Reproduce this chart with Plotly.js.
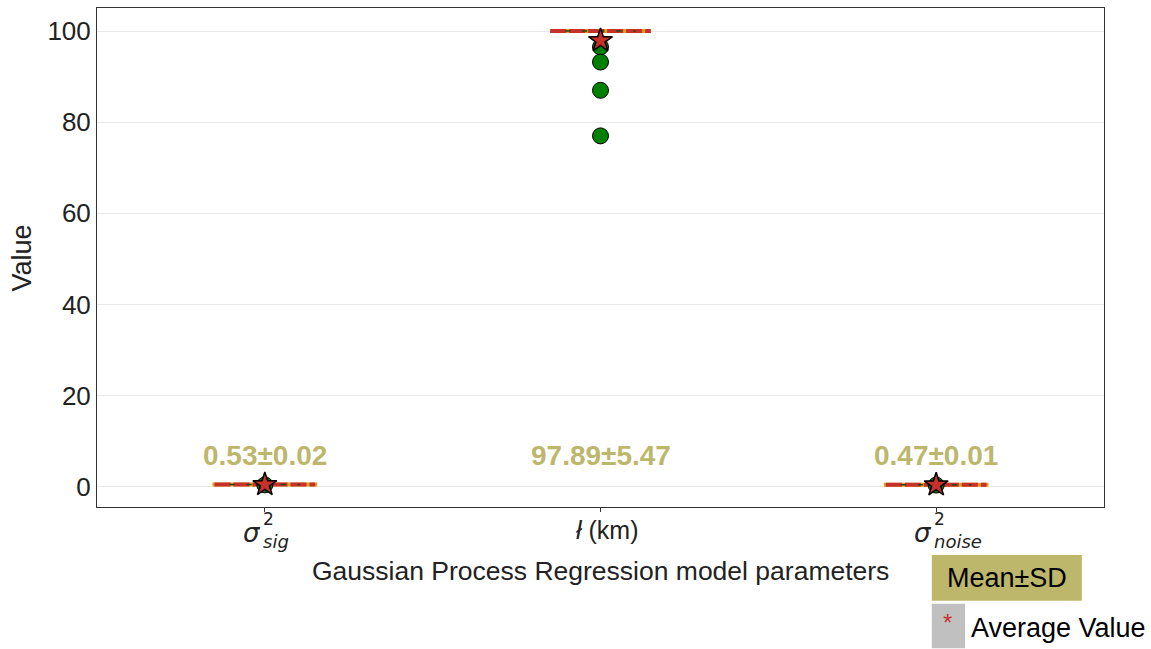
<!DOCTYPE html>
<html><head><meta charset="utf-8">
<script src="https://cdn.plot.ly/plotly-3.0.1.min.js"></script>
<style>body{margin:0;background:#fff}#c{width:1151px;height:649px}</style>
</head><body><div id="c"></div>
<script>
// Data
const categories = ["sig", "ell", "noise"];
const medians = [0.53, 100, 0.47];
const q1s = [0.52, 100, 0.46];
const q3s = [0.54, 100, 0.48];
const means = [0.53, 97.89, 0.47];
const sds = [0.02, 5.47, 0.01];
const outlierCat = [0, 1, 1, 1, 1, 2];
const outlierVals = [0.45, 96.5, 93.2, 87.0, 77.0, 0.40];
const yTicks = [0, 20, 40, 60, 80, 100];

const KHAKI = "#BDB76B";
const halfW = 0.15;
const idx = categories.map((_, i) => i);
const LF = "Liberation Sans, Arial";

const traces = [];
// boxes (collapsed)
idx.forEach(i => {
  traces.push({type: "box", x: [i], q1: [q1s[i]], median: [medians[i]], q3: [q3s[i]],
    lowerfence: [q1s[i]], upperfence: [q3s[i]], width: 2 * halfW, boxpoints: false,
    line: {color: "#E0A020", width: 4}, fillcolor: "rgba(0,0,0,0)", whiskerwidth: 0,
    showlegend: false, hoverinfo: "skip"});
});
// median lines (red)
idx.forEach(i => {
  traces.push({type: "scatter", mode: "lines", x: [i - halfW, i + halfW], y: [medians[i], medians[i]],
    line: {color: "#C8302A", width: 4, dash: "16px,3px"}, showlegend: false, hoverinfo: "skip"});
});
// dark dashes on median line
idx.forEach(i => {
  traces.push({type: "scatter", mode: "lines", x: [i - halfW * 0.7, i + halfW * 0.7], y: [medians[i], medians[i]],
    line: {color: "#1E4A1E", width: 1.5, dash: "5px,12px"}, showlegend: false, hoverinfo: "skip"});
});
// outliers
traces.push({type: "scatter", mode: "markers", x: outlierCat, y: outlierVals,
  marker: {color: "#008000", size: 16, line: {color: "#000", width: 1}}, showlegend: false});
// mean stars
traces.push({type: "scatter", mode: "markers", x: idx, y: means,
  marker: {symbol: "star", color: "#C8302A", size: 18, line: {color: "#000", width: 1.5}}, showlegend: false});

const annotations = [];
// value labels
idx.forEach(i => {
  annotations.push({x: i, y: 6.8, xref: "x", yref: "y", showarrow: false, xanchor: "center",
    text: "<b>" + means[i].toFixed(2) + "±" + sds[i].toFixed(2) + "</b>",
    font: {family: LF, size: 28, color: KHAKI}});
});
// x tick labels
const f = "DejaVu Sans";
function sigmaLabel(i, sub) {
  annotations.push({x: i, xref: "x", y: -0.018, yref: "paper", xanchor: "right", yanchor: "top", xshift: -2,
    showarrow: false, text: "<i>σ</i>", font: {family: f, size: 26, color: "#222"}});
  annotations.push({x: i, xref: "x", y: -0.048, yref: "paper", xanchor: "left", yanchor: "bottom", xshift: -4,
    showarrow: false, text: "2", font: {family: f, size: 17, color: "#222"}});
  annotations.push({x: i, xref: "x", y: -0.050, yref: "paper", xanchor: "left", yanchor: "top", xshift: -4, yshift: 3,
    showarrow: false, text: "<i>" + sub + "</i>", font: {family: f, size: 18, color: "#222"}});
}
sigmaLabel(0, "sig");
sigmaLabel(2, "noise");
annotations.push({x: 1, xref: "x", y: -0.014, yref: "paper", yanchor: "top", xanchor: "center", xshift: 6, showarrow: false,
  text: "<i>ł</i> (km)", font: {family: LF, size: 25, color: "#222"}});
// axis titles
annotations.push({x: 0.5, xref: "paper", y: -0.128, yref: "paper", yanchor: "middle", xanchor: "center", showarrow: false,
  text: "Gaussian Process Regression model parameters", font: {family: LF, size: 26.5, color: "#222"}});
annotations.push({x: -0.0745, xref: "paper", y: 0.5, yref: "paper", textangle: -90, xanchor: "center", yanchor: "middle", showarrow: false,
  text: "Value", font: {family: LF, size: 27, color: "#222"}});
// legend
annotations.push({x: 0.9035, xref: "paper", y: -0.142, yref: "paper", yanchor: "middle", xanchor: "center", showarrow: false,
  text: "Mean±SD", font: {family: LF, size: 27, color: "#000"}});
annotations.push({x: 0.8445, xref: "paper", y: -0.232, yref: "paper", yanchor: "middle", xanchor: "center", showarrow: false,
  text: "*", font: {family: LF, size: 24, color: "#C8302A"}});
annotations.push({x: 0.8655, xref: "paper", y: -0.242, yref: "paper", xanchor: "left", yanchor: "middle", showarrow: false,
  text: "Average Value", font: {family: LF, size: 27, color: "#000"}});

const shapes = [
  {type: "rect", xref: "paper", yref: "paper", x0: 0.829, x1: 0.978, y0: -0.096, y1: -0.188,
   fillcolor: KHAKI, line: {width: 0}},
  {type: "rect", xref: "paper", yref: "paper", x0: 0.829, x1: 0.862, y0: -0.194, y1: -0.283,
   fillcolor: "#C0C0C0", line: {width: 0}}
];

const layout = {
  width: 1151, height: 649,
  margin: {l: 97, r: 47, t: 8, b: 142},
  paper_bgcolor: "#fff", plot_bgcolor: "#fff",
  showlegend: false,
  font: {family: LF, color: "#222"},
  xaxis: {range: [-0.5, 2.5], tickvals: idx, ticktext: ["", "", ""], ticks: "outside", ticklen: 4,
    tickcolor: "#333", showgrid: false, zeroline: false, showline: true, mirror: true,
    linecolor: "#333", linewidth: 1},
  yaxis: {range: [-4.4, 105.05], tickvals: yTicks, ticks: "", showgrid: true, gridcolor: "#E8E8E8",
    zeroline: false, showline: true, mirror: true, linecolor: "#333", linewidth: 1,
    tickfont: {family: LF, size: 26, color: "#222"}},
  annotations: annotations,
  shapes: shapes
};

Plotly.newPlot("c", traces, layout, {displayModeBar: false, staticPlot: true});
</script></body></html>
